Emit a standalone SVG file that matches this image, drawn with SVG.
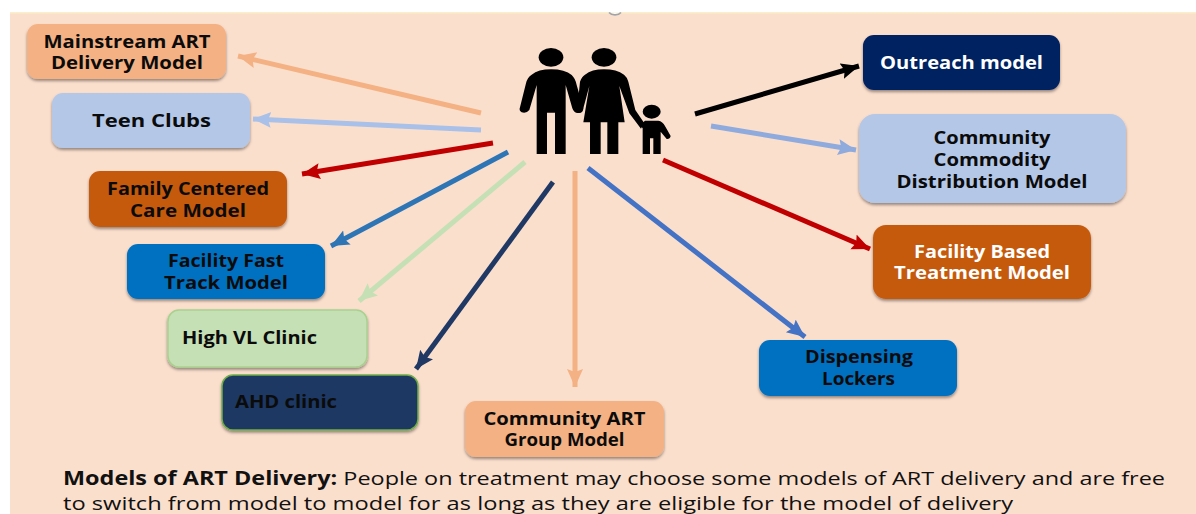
<svg xmlns="http://www.w3.org/2000/svg" width="1196" height="514" viewBox="0 0 1196 514">
<defs>
<style>
text{font-family:"Open Sans","Noto Sans","DejaVu Sans",sans-serif}
.n{font-weight:700;font-size:17px;text-anchor:middle;fill:#0b0b0b}
.w{fill:#fff}
.l{text-anchor:start}
.b{filter:url(#s)}
.c{fill:none;stroke-width:5}
.cap{font-size:19px;fill:#111}
</style>
<filter id="s" x="-5%" y="-10%" width="110%" height="125%"><feDropShadow dx="0" dy="2" stdDeviation="1.5" flood-color="#000" flood-opacity=".4"/></filter>
<marker id="m1" markerWidth="4" markerHeight="4" refX="3.6" refY="1.6" orient="auto"><path d="M0 0L3.6 1.6L0 3.2L.6 1.6Z" fill="#F4B183"/></marker>
<marker id="m2" markerWidth="4" markerHeight="4" refX="3.6" refY="1.6" orient="auto"><path d="M0 0L3.6 1.6L0 3.2L.6 1.6Z" fill="#A9C0E8"/></marker>
<marker id="m3" markerWidth="4" markerHeight="4" refX="3.6" refY="1.6" orient="auto"><path d="M0 0L3.6 1.6L0 3.2L.6 1.6Z" fill="#C00000"/></marker>
<marker id="m4" markerWidth="4" markerHeight="4" refX="3.6" refY="1.6" orient="auto"><path d="M0 0L3.6 1.6L0 3.2L.6 1.6Z" fill="#2E75B6"/></marker>
<marker id="m5" markerWidth="4" markerHeight="4" refX="3.6" refY="1.6" orient="auto"><path d="M0 0L3.6 1.6L0 3.2L.6 1.6Z" fill="#C5E0B4"/></marker>
<marker id="m6" markerWidth="4" markerHeight="4" refX="3.6" refY="1.6" orient="auto"><path d="M0 0L3.6 1.6L0 3.2L.6 1.6Z" fill="#1F3864"/></marker>
<marker id="m7" markerWidth="4" markerHeight="4" refX="3.6" refY="1.6" orient="auto"><path d="M0 0L3.6 1.6L0 3.2L.6 1.6Z" fill="#4472C4"/></marker>
<marker id="m8" markerWidth="4" markerHeight="4" refX="3.6" refY="1.6" orient="auto"><path d="M0 0L3.6 1.6L0 3.2L.6 1.6Z" fill="#8FAADC"/></marker>
<marker id="m9" markerWidth="4" markerHeight="4" refX="3.6" refY="1.6" orient="auto"><path d="M0 0L3.6 1.6L0 3.2L.6 1.6Z" fill="#000"/></marker>
</defs>
<rect width="1196" height="514" fill="#fff"/>
<rect x="10" y="12" width="1186" height="502" fill="#FBDFCD"/>
<rect x="10" y="12" width="1186" height="1.5" fill="#FBEFCB"/>
<path d="M609 12.5a7 5 0 0 0 12 0" fill="#fff" stroke="#A0A4A8" stroke-width="1.6"/>
<g id="connectors" class="c">
<line class="c" x1="481" y1="113" x2="238" y2="56" stroke="#F4B183" marker-end="url(#m1)"/>
<line class="c" x1="481" y1="130" x2="253" y2="119" stroke="#A9C0E8" marker-end="url(#m2)"/>
<line class="c" x1="493" y1="143" x2="302" y2="174" stroke="#C00000" marker-end="url(#m3)"/>
<line class="c" x1="508" y1="152" x2="331" y2="246" stroke="#2E75B6" marker-end="url(#m4)"/>
<line class="c" x1="525" y1="162" x2="359" y2="301" stroke="#C5E0B4" marker-end="url(#m5)"/>
<line class="c" x1="553" y1="182" x2="416" y2="369" stroke="#1F3864" marker-end="url(#m6)"/>
<line class="c" x1="575" y1="171" x2="575" y2="387" stroke="#F4B183" marker-end="url(#m1)"/>
<line class="c" x1="588" y1="168" x2="805" y2="337" stroke="#4472C4" marker-end="url(#m7)"/>
<line class="c" x1="663" y1="160" x2="870" y2="249" stroke="#C00000" marker-end="url(#m3)"/>
<line class="c" x1="711" y1="126" x2="856" y2="150" stroke="#8FAADC" marker-end="url(#m8)"/>
<line class="c" x1="695" y1="114" x2="859" y2="66" stroke="#000" marker-end="url(#m9)"/>
</g>
<g id="family" transform="translate(500 0) scale(.33333)" fill="#000">
<ellipse cx="153" cy="172" rx="37" ry="28"/>
<path d="M153 208Q195 208 215 225Q226 235 230 255L250 325Q250 340 235 339Q222 340 217 325L197 255V462H165V338H141V462H110V255L88 330Q78 342 65 337Q56 332 60 322L78 250Q82 232 95 224Q115 208 153 208Z"/>
<ellipse cx="312" cy="172" rx="37" ry="28"/>
<path d="M312 208Q350 208 372 224Q382 232 385 245L406 330L432 368L423 386L388 340L358 258L374 367H355V462H322V367H302V462H270V367H250L268 258L250 325Q245 340 232 338L237 275L240 245Q245 230 255 224Q275 208 312 208Z"/>
<ellipse cx="455" cy="335" rx="27" ry="21"/>
<path d="M435 362H475Q488 364 495 378L512 408Q510 418 500 417L482 395V462H460V415H450V462H428V385L420 375Z"/>
</g>
<g id="mainstream"><rect class="b" x="27" y="24" width="199" height="55" rx="11" fill="#F4B183"/><text class="n" x="127" y="47.500" textLength="167" lengthAdjust="spacingAndGlyphs">Mainstream ART</text><text class="n" x="127" y="69" textLength="152" lengthAdjust="spacingAndGlyphs">Delivery Model</text></g>
<g id="teen-clubs"><rect class="b" x="52" y="93" width="198" height="55" rx="11" fill="#B4C7E7"/><text class="n" x="151.500" y="127" textLength="119" lengthAdjust="spacingAndGlyphs">Teen Clubs</text></g>
<g id="family-centered"><rect class="b" x="89" y="171" width="198" height="56" rx="11" fill="#C55A11"/><text class="n" x="188" y="195" textLength="162" lengthAdjust="spacingAndGlyphs">Family Centered</text><text class="n" x="188" y="216.500" textLength="116" lengthAdjust="spacingAndGlyphs">Care Model</text></g>
<g id="facility-fast"><rect class="b" x="127" y="244" width="198" height="55" rx="11" fill="#0070C0"/><text class="n" x="226" y="267" textLength="116" lengthAdjust="spacingAndGlyphs">Facility Fast</text><text class="n" x="226" y="288.500" textLength="124" lengthAdjust="spacingAndGlyphs">Track Model</text></g>
<g id="high-vl"><rect class="b" x="168" y="310" width="199" height="57" rx="11" fill="#C5E0B4" stroke="#A9D18E" stroke-width="1.500"/><text class="n l" x="182" y="344" textLength="135" lengthAdjust="spacingAndGlyphs">High VL Clinic</text></g>
<g id="ahd"><rect class="b" x="222" y="375" width="196" height="55" rx="11" fill="#1F3864" stroke="#70AD47" stroke-width="1.500"/><text class="n l" x="235" y="408" textLength="102" lengthAdjust="spacingAndGlyphs">AHD clinic</text></g>
<g id="community-art"><rect class="b" x="465" y="401" width="199" height="56" rx="11" fill="#F4B183"/><text class="n" x="564.500" y="424.500" textLength="162" lengthAdjust="spacingAndGlyphs">Community ART</text><text class="n" x="564.500" y="446" textLength="120" lengthAdjust="spacingAndGlyphs">Group Model</text></g>
<g id="dispensing"><rect class="b" x="759" y="340" width="198" height="56" rx="11" fill="#0070C0"/><text class="n" x="859" y="363" textLength="108" lengthAdjust="spacingAndGlyphs">Dispensing</text><text class="n" x="858.500" y="385" textLength="73" lengthAdjust="spacingAndGlyphs">Lockers</text></g>
<g id="facility-based"><rect class="b" x="873" y="225" width="218" height="74" rx="13" fill="#C55A11"/><text class="n w" x="982" y="257.500" textLength="136" lengthAdjust="spacingAndGlyphs">Facility Based</text><text class="n w" x="982" y="279" textLength="176" lengthAdjust="spacingAndGlyphs">Treatment Model</text></g>
<g id="community-commodity"><rect class="b" x="859" y="114" width="267" height="89" rx="16" fill="#B4C7E7"/><text class="n" x="992" y="143.500" textLength="117" lengthAdjust="spacingAndGlyphs">Community</text><text class="n" x="992" y="165.500" textLength="117" lengthAdjust="spacingAndGlyphs">Commodity</text><text class="n" x="992" y="187.500" textLength="191" lengthAdjust="spacingAndGlyphs">Distribution Model</text></g>
<g id="outreach"><rect class="b" x="863" y="35" width="197" height="55" rx="11" fill="#002060"/><text class="n w" x="961.500" y="68.500" textLength="163" lengthAdjust="spacingAndGlyphs">Outreach model</text></g>
<g id="caption" class="cap">
<text x="63" y="485" textLength="1102" lengthAdjust="spacingAndGlyphs"><tspan font-weight="700">Models of ART Delivery:</tspan> People on treatment may choose some models of ART delivery and are free</text>
<text x="63" y="509.500" textLength="950" lengthAdjust="spacingAndGlyphs">to switch from model to model for as long as they are eligible for the model of delivery</text>
</g>
</svg>
